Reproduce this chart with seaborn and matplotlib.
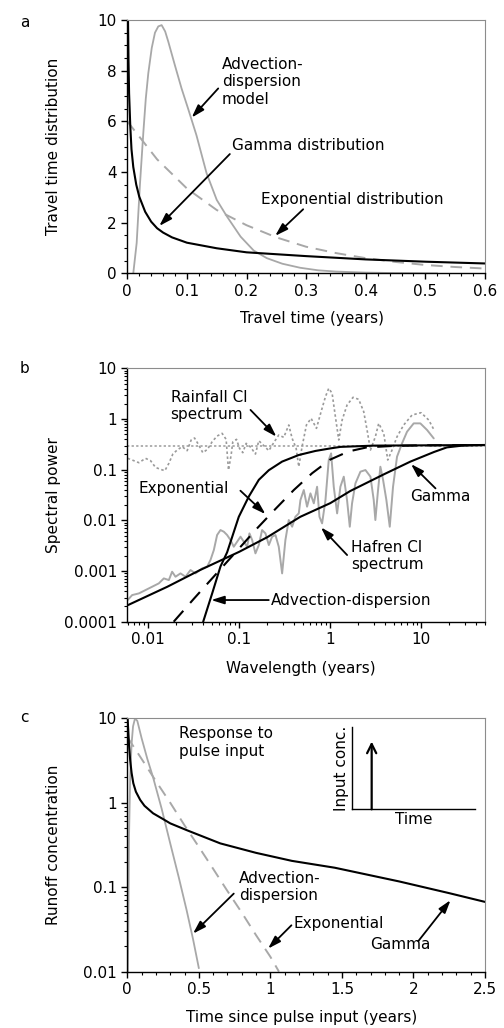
import numpy as np
import matplotlib
matplotlib.use('Agg')
import matplotlib.pyplot as plt
import matplotlib.ticker as mticker
import seaborn as sns

# ---------------- panel a: travel time distributions ----------------
gamma_a_t = [0.0012, 0.002, 0.003, 0.005, 0.007, 0.01, 0.015, 0.02, 0.03, 0.04, 0.05, 0.06,
             0.075, 0.1, 0.15, 0.2, 0.3, 0.4, 0.5, 0.6]
gamma_a_y = [10.0, 8.4, 7.1, 5.8, 4.9, 4.2, 3.5, 3.03, 2.43, 2.04, 1.78, 1.61,
             1.42, 1.21, 0.99, 0.83, 0.68, 0.55, 0.46, 0.39]

advdisp_a_t = [0.010, 0.0157, 0.0213, 0.027, 0.031, 0.0352, 0.041, 0.0464, 0.052, 0.0576,
               0.0635, 0.0687, 0.08, 0.091, 0.102, 0.116, 0.133, 0.15, 0.167, 0.19,
               0.212, 0.234, 0.26, 0.29, 0.32, 0.35, 0.40, 0.45, 0.52]
advdisp_a_y = [0.0, 1.2, 3.55, 5.6, 6.9, 7.9, 8.9, 9.5, 9.75, 9.8,
               9.55, 9.15, 8.2, 7.3, 6.5, 5.45, 3.95, 2.9, 2.25, 1.45,
               0.9, 0.6, 0.38, 0.22, 0.12, 0.07, 0.03, 0.01, 0.0]

expon_a_t = [0.0, 0.05, 0.1, 0.15, 0.2, 0.25, 0.3, 0.35, 0.4, 0.45, 0.5, 0.55, 0.6]
expon_a_y = [6.0, 4.5, 3.35, 2.5, 1.9, 1.42, 1.05, 0.8, 0.6, 0.45, 0.33, 0.25, 0.19]

# ---------------- panel b: spectra (log10 of wavelength and power) ----------------
rain_logwl = [-2.225, -2.176, -2.102, -2.029, -1.974, -1.920, -1.865, -1.817, -1.773, -1.729,
              -1.682, -1.627, -1.572, -1.528, -1.491, -1.451, -1.400, -1.349, -1.297, -1.243,
              -1.188, -1.144, -1.118, -1.089, -1.071, -1.030, -0.997, -0.961, -0.924, -0.873,
              -0.822, -0.785, -0.730, -0.675, -0.621, -0.566, -0.511, -0.456, -0.419, -0.375,
              -0.346, -0.310, -0.262, -0.211, -0.152, -0.101, -0.053, -0.017, 0.020, 0.056,
              0.093, 0.130, 0.184, 0.250, 0.312, 0.367, 0.404, 0.441, 0.495, 0.532,
              0.587, 0.631, 0.678, 0.733, 0.806, 0.898, 0.997, 1.081, 1.136]
rain_logpow = [-0.776, -0.809, -0.862, -0.776, -0.822, -0.954, -0.993, -1.020, -0.875, -0.691,
               -0.612, -0.546, -0.625, -0.414, -0.375, -0.493, -0.664, -0.599, -0.447, -0.336,
               -0.283, -0.401, -1.007, -0.711, -0.454, -0.401, -0.579, -0.664, -0.480, -0.559,
               -0.691, -0.428, -0.526, -0.625, -0.467, -0.316, -0.362, -0.118, -0.382, -0.579,
               -0.941, -0.546, -0.118, 0.013, -0.184, 0.145, 0.441, 0.605, 0.507, 0.046,
               -0.414, -0.020, 0.276, 0.428, 0.388, 0.145, -0.217, -0.612, -0.349, -0.086,
               -0.283, -0.809, -0.612, -0.349, -0.118, 0.079, 0.125, -0.020, -0.204]
rain_white_pow = 0.3

hafren_logwl = [-2.225, -2.176, -2.102, -2.029, -1.956, -1.883, -1.828, -1.773, -1.737, -1.700,
                -1.645, -1.590, -1.535, -1.480, -1.407, -1.352, -1.316, -1.279, -1.243, -1.206,
                -1.169, -1.133, -1.096, -1.060, -1.023, -0.986, -0.950, -0.913, -0.888, -0.858,
                -0.822, -0.785, -0.749, -0.712, -0.675, -0.639, -0.602, -0.566, -0.529, -0.493,
                -0.456, -0.419, -0.383, -0.346, -0.328, -0.291, -0.255, -0.218, -0.181, -0.145,
                -0.119, -0.090, -0.053, -0.017, 0.009, 0.038, 0.075, 0.111, 0.148, 0.184,
                0.214, 0.239, 0.276, 0.331, 0.386, 0.441, 0.477, 0.495, 0.521, 0.550,
                0.580, 0.616, 0.653, 0.689, 0.733, 0.788, 0.843, 0.916, 0.989, 1.063, 1.136]
hafren_logpow = [-3.572, -3.474, -3.441, -3.375, -3.309, -3.243, -3.145, -3.178, -3.013, -3.112,
                 -3.046, -3.112, -2.980, -3.046, -2.947, -2.914, -2.783, -2.586, -2.289, -2.191,
                 -2.224, -2.289, -2.388, -2.520, -2.421, -2.322, -2.421, -2.520, -2.257, -2.388,
                 -2.651, -2.487, -2.191, -2.257, -2.487, -2.322, -2.289, -2.520, -3.046, -2.388,
                 -1.993, -2.125, -1.928, -1.862, -1.599, -1.401, -1.730, -1.467, -1.664, -1.336,
                 -1.928, -2.059, -1.599, -0.809, -0.678, -1.336, -1.862, -1.336, -1.138, -1.599,
                 -2.125, -1.664, -1.270, -1.039, -1.007, -1.138, -1.599, -1.993, -1.467, -0.941,
                 -1.204, -1.599, -2.125, -1.336, -0.743, -0.480, -0.250, -0.086, -0.086, -0.217, -0.382]

gamma_b_logwl = [-2.22, -1.79, -1.43, -1.0, -0.69, -0.33, 0.0, 0.22, 0.59, 0.88, 1.14, 1.28, 1.45, 1.70]
gamma_b_logpow = [-3.67, -3.31, -2.98, -2.62, -2.33, -1.93, -1.66, -1.42, -1.09, -0.84, -0.65, -0.56, -0.525, -0.513]

expon_b_logwl = [-1.72, -1.5, -1.2, -1.0, -0.8, -0.6, -0.4, -0.2, 0.0, 0.2, 0.4, 0.7, 1.0, 1.7]
expon_b_logpow = [-4.0, -3.55, -2.95, -2.55, -2.15, -1.77, -1.40, -1.07, -0.80, -0.64, -0.56, -0.53, -0.52, -0.513]

advdisp_b_logwl = [-1.396, -1.297, -1.206, -1.133, -1.005, -0.895, -0.785, -0.675, -0.529, -0.346,
                   -0.163, 0.0, 0.111, 0.477, 1.70]
advdisp_b_logpow = [-4.0, -3.44, -2.91, -2.63, -1.93, -1.53, -1.20, -1.01, -0.84, -0.71,
                    -0.63, -0.58, -0.55, -0.525, -0.513]

# ---------------- panel c: response to pulse input ----------------
gamma_c_t = [0.002, 0.004, 0.007, 0.012, 0.02, 0.03, 0.042, 0.06, 0.09, 0.12, 0.18, 0.25,
             0.3, 0.42, 0.65, 0.9, 1.15, 1.45, 1.9, 2.25, 2.5]
gamma_c_y = [10.0, 8.6, 7.0, 4.8, 3.2, 2.25, 1.7, 1.35, 1.08, 0.92, 0.75, 0.64,
             0.57, 0.47, 0.33, 0.255, 0.205, 0.17, 0.117, 0.085, 0.067]

advdisp_c_t = [0.004, 0.008, 0.012, 0.02, 0.03, 0.04, 0.054, 0.07, 0.1, 0.14, 0.18, 0.24,
               0.3, 0.36, 0.415, 0.46, 0.5]
advdisp_c_y = [0.01, 0.05, 0.4, 2.0, 5.0, 8.0, 10.0, 9.3, 5.8, 3.3, 2.0, 0.85,
               0.33, 0.13, 0.053, 0.024, 0.011]

expon_c_t = [0.0, 0.1, 0.2, 0.3, 0.4, 0.5, 0.6, 0.7, 0.8, 0.9, 1.0, 1.06]
expon_c_y = [6.0, 3.3, 1.8, 1.0, 0.54, 0.3, 0.165, 0.09, 0.05, 0.027, 0.015, 0.01]

GRAY = '#a8a8a8'
FS = 11

sns.set_style('ticks')
plt.rcParams['font.family'] = ['DejaVu Sans']
plt.rcParams['font.size'] = FS
plt.rcParams['text.color'] = 'black'
plt.rcParams['axes.labelcolor'] = 'black'
plt.rcParams['xtick.color'] = 'black'
plt.rcParams['ytick.color'] = 'black'

fig = plt.figure(figsize=(5.04, 10.28), dpi=100)
ax_a = fig.add_axes([0.2526, 0.7341, 0.7097, 0.2464])
ax_b = fig.add_axes([0.2526, 0.3952, 0.7097, 0.2465])
ax_c = fig.add_axes([0.2526, 0.0548, 0.7097, 0.2465])

arrow = dict(arrowstyle='-|>,head_length=0.7,head_width=0.22', color='k', lw=1.3,
             shrinkA=0, shrinkB=0)


def style_axes(ax):
    for s in ['top', 'right']:
        ax.spines[s].set_color('#8c8c8c')
        ax.spines[s].set_linewidth(0.8)
    for s in ['left', 'bottom']:
        ax.spines[s].set_color('k')
        ax.spines[s].set_linewidth(1.0)
    ax.tick_params(which='major', direction='out', length=4, width=1.0, labelsize=FS, colors='k')
    ax.tick_params(which='minor', direction='out', length=2.5, width=0.8, colors='k')
    ax.tick_params(top=False, right=False, which='both')


# ---- a ----
sns.lineplot(x=expon_a_t, y=expon_a_y, ax=ax_a, color=GRAY, lw=1.4,
             linestyle=(0, (6, 4)), estimator=None)
sns.lineplot(x=advdisp_a_t, y=advdisp_a_y, ax=ax_a, color=GRAY, lw=1.3, estimator=None)
sns.lineplot(x=gamma_a_t, y=gamma_a_y, ax=ax_a, color='k', lw=1.5, estimator=None)
ax_a.set_xlim(0, 0.6)
ax_a.set_ylim(0, 10)
ax_a.xaxis.set_major_locator(mticker.MultipleLocator(0.1))
ax_a.xaxis.set_minor_locator(mticker.MultipleLocator(0.02))
ax_a.yaxis.set_major_locator(mticker.MultipleLocator(2))
ax_a.yaxis.set_minor_locator(mticker.MultipleLocator(0.5))
ax_a.xaxis.set_major_formatter(mticker.FuncFormatter(lambda v, p: f'{v:g}'))
ax_a.set_xlabel('Travel time (years)', fontsize=FS)
ax_a.set_ylabel('Travel time distribution', fontsize=FS)
style_axes(ax_a)

ax_a.text(0.159, 7.56, 'Advection-\ndispersion\nmodel', ha='left', va='center', fontsize=FS)
ax_a.annotate('', xy=(0.108, 6.15), xytext=(0.1525, 7.30), arrowprops=arrow)
ax_a.text(0.176, 5.04, 'Gamma distribution', ha='left', va='center', fontsize=FS)
ax_a.annotate('', xy=(0.0536, 1.87), xytext=(0.172, 4.71), arrowprops=arrow)
ax_a.text(0.225, 2.93, 'Exponential distribution', ha='left', va='center', fontsize=FS)
ax_a.annotate('', xy=(0.248, 1.48), xytext=(0.295, 2.53), arrowprops=arrow)

# ---- b ----
rain_wl = 10 ** np.array(rain_logwl)
hafren_wl = 10 ** np.array(hafren_logwl)
ax_b.set_xscale('log')
ax_b.set_yscale('log')
ax_b.axhline(rain_white_pow, color='#9a9a9a', lw=1.1, linestyle=(0, (1.5, 1.5)))
sns.lineplot(x=rain_wl, y=10 ** np.array(rain_logpow), ax=ax_b, color='#9a9a9a', lw=1.2,
             linestyle=(0, (1.5, 1.5)), estimator=None)
sns.lineplot(x=hafren_wl, y=10 ** np.array(hafren_logpow), ax=ax_b, color=GRAY, lw=1.4,
             estimator=None)
sns.lineplot(x=10 ** np.array(expon_b_logwl), y=10 ** np.array(expon_b_logpow), ax=ax_b,
             color='k', lw=1.5, linestyle=(0, (7, 5)), estimator=None)
sns.lineplot(x=10 ** np.array(gamma_b_logwl), y=10 ** np.array(gamma_b_logpow), ax=ax_b,
             color='k', lw=1.5, estimator=None)
sns.lineplot(x=10 ** np.array(advdisp_b_logwl), y=10 ** np.array(advdisp_b_logpow), ax=ax_b,
             color='k', lw=1.5, estimator=None)
ax_b.set_xlim(0.0059, 50)
ax_b.set_ylim(0.0001, 10)
ax_b.xaxis.set_major_locator(mticker.FixedLocator([0.01, 0.1, 1, 10]))
ax_b.yaxis.set_major_locator(mticker.FixedLocator([0.0001, 0.001, 0.01, 0.1, 1, 10]))
ax_b.xaxis.set_minor_locator(mticker.LogLocator(base=10, subs=np.arange(2, 10), numticks=20))
ax_b.yaxis.set_minor_locator(mticker.LogLocator(base=10, subs=np.arange(2, 10), numticks=20))
ax_b.xaxis.set_major_formatter(mticker.FuncFormatter(lambda v, p: f'{v:g}'))
ax_b.yaxis.set_major_formatter(mticker.FuncFormatter(lambda v, p: f'{v:g}'))
ax_b.xaxis.set_minor_formatter(mticker.NullFormatter())
ax_b.yaxis.set_minor_formatter(mticker.NullFormatter())
ax_b.set_xlabel('Wavelength (years)', fontsize=FS)
ax_b.set_ylabel('Spectral power', fontsize=FS)
style_axes(ax_b)

ax_b.text(0.0176, 1.81, 'Rainfall Cl\nspectrum', ha='left', va='center', fontsize=FS)
ax_b.annotate('', xy=(0.256, 0.448), xytext=(0.133, 1.51), arrowprops=arrow)
ax_b.text(0.0079, 0.0428, 'Exponential', ha='left', va='center', fontsize=FS)
ax_b.annotate('', xy=(0.194, 0.0133), xytext=(0.103, 0.0385), arrowprops=arrow)
ax_b.text(7.45, 0.0302, 'Gamma', ha='left', va='center', fontsize=FS)
ax_b.annotate('', xy=(7.7, 0.129), xytext=(14.3, 0.0428), arrowprops=arrow)
ax_b.text(1.69, 0.00198, 'Hafren Cl\nspectrum', ha='left', va='center', fontsize=FS)
ax_b.annotate('', xy=(0.79, 0.00728), xytext=(1.53, 0.00207), arrowprops=arrow)
ax_b.text(0.224, 0.000268, 'Advection-dispersion', ha='left', va='center', fontsize=FS)
ax_b.annotate('', xy=(0.0492, 0.000268), xytext=(0.211, 0.000268), arrowprops=arrow)

# ---- c ----
ax_c.set_yscale('log')
sns.lineplot(x=expon_c_t, y=expon_c_y, ax=ax_c, color=GRAY, lw=1.4,
             linestyle=(0, (6, 4)), estimator=None)
sns.lineplot(x=advdisp_c_t, y=advdisp_c_y, ax=ax_c, color=GRAY, lw=1.3, estimator=None)
sns.lineplot(x=gamma_c_t, y=gamma_c_y, ax=ax_c, color='k', lw=1.5, estimator=None)
ax_c.set_xlim(0, 2.5)
ax_c.set_ylim(0.01, 10)
ax_c.xaxis.set_major_locator(mticker.MultipleLocator(0.5))
ax_c.xaxis.set_minor_locator(mticker.MultipleLocator(0.1))
ax_c.yaxis.set_major_locator(mticker.FixedLocator([0.01, 0.1, 1, 10]))
ax_c.yaxis.set_minor_locator(mticker.LogLocator(base=10, subs=np.arange(2, 10), numticks=20))
ax_c.xaxis.set_major_formatter(mticker.FuncFormatter(lambda v, p: f'{v:g}'))
ax_c.yaxis.set_major_formatter(mticker.FuncFormatter(lambda v, p: f'{v:g}'))
ax_c.yaxis.set_minor_formatter(mticker.NullFormatter())
ax_c.set_xlabel('Time since pulse input (years)', fontsize=FS)
ax_c.set_ylabel('Runoff concentration', fontsize=FS)
style_axes(ax_c)

ax_c.text(0.359, 5.14, 'Response to\npulse input', ha='left', va='center', fontsize=FS)
ax_c.text(0.779, 0.101, 'Advection-\ndispersion', ha='left', va='center', fontsize=FS)
ax_c.annotate('', xy=(0.459, 0.0282), xytext=(0.744, 0.084), arrowprops=arrow)
ax_c.text(1.163, 0.0371, 'Exponential', ha='left', va='center', fontsize=FS)
ax_c.annotate('', xy=(0.984, 0.01875), xytext=(1.147, 0.0354), arrowprops=arrow)
ax_c.text(1.695, 0.0209, 'Gamma', ha='left', va='center', fontsize=FS)
ax_c.annotate('', xy=(2.259, 0.0702), xytext=(2.033, 0.0229), arrowprops=arrow)

# inset: pulse input sketch
ax_in = fig.add_axes([0.6978, 0.2127, 0.2447, 0.0804])
ax_in.set_xlim(0, 1)
ax_in.set_ylim(0, 1)
for s in ['top', 'right']:
    ax_in.spines[s].set_visible(False)
for s in ['left', 'bottom']:
    ax_in.spines[s].set_color('k')
    ax_in.spines[s].set_linewidth(1.0)
ax_in.set_xticks([])
ax_in.set_yticks([])
ax_in.patch.set_alpha(0)
ax_in.annotate('', xy=(0.162, 0.82), xytext=(0.162, 0.0),
               arrowprops=dict(arrowstyle='->,head_length=0.6,head_width=0.3', color='k', lw=1.6,
                               shrinkA=0, shrinkB=0))
ax_in.set_xlabel('Time', fontsize=FS, labelpad=2)
ax_in.set_ylabel('Input conc.', fontsize=FS, labelpad=2)

# label positions
for ax in (ax_a, ax_b, ax_c):
    ax.yaxis.set_label_coords(-0.185, 0.5)
ax_a.xaxis.set_label_coords(0.517, -0.15)
ax_b.xaxis.set_label_coords(0.485, -0.155)
ax_c.xaxis.set_label_coords(0.486, -0.15)

fig.text(0.0397, 0.978, 'a', ha='left', va='center', fontsize=FS)
fig.text(0.0397, 0.6417, 'b', ha='left', va='center', fontsize=FS)
fig.text(0.0397, 0.3022, 'c', ha='left', va='center', fontsize=FS)

fig.savefig('out.png', dpi=100)
